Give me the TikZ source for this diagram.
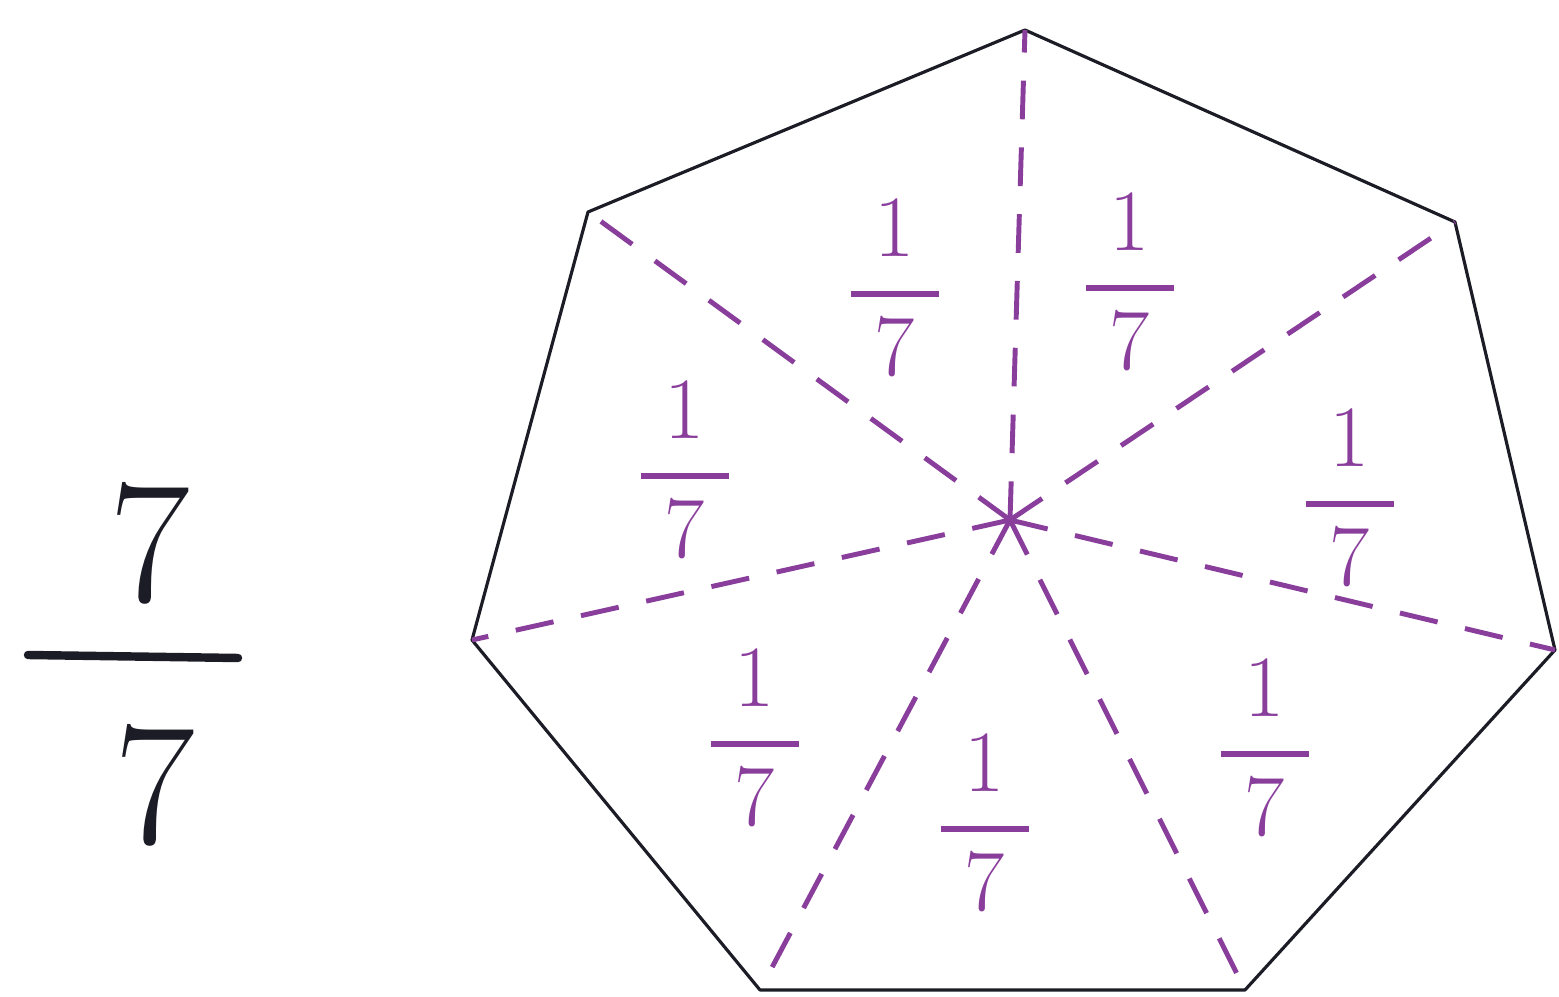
\documentclass[tikz,border=0pt]{standalone}
\usepackage{amsmath}
\usepackage{tikz}
\usetikzlibrary{positioning,calc}
\definecolor{inkpurple}{HTML}{8A3E9C}
\definecolor{inkblack}{HTML}{1C1C26}
\newcommand{\onepart}{$\displaystyle\genfrac{}{}{1.6pt}{0}{\;1\;}{\;7\;}$}
\tikzset{
    every node/.style={font=\small},
    part/.style={text=inkpurple,font=\fontsize{28}{34}\selectfont,inner sep=0pt},
    whole/.style={text=inkblack,font=\fontsize{50}{60}\selectfont,inner sep=0pt},
    side/.style={draw=inkblack,line width=0.9pt,line join=round},
    cut/.style={draw=inkpurple,line width=1.4pt,dash pattern=on 11pt off 8pt},
    bar/.style={draw=inkblack,line width=2.4pt,line cap=round}
}

\begin{document}
\begin{tikzpicture}[x=0.01cm,y=-0.01cm]
    \useasboundingbox (0,0) rectangle (1559,997);
    % the whole
    \node[whole] (num) at (150,543) {7};
    \node[whole] (den) at (155,785) {7};
    \coordinate (barl) at (28,655);
    \coordinate (barr) at (238,658);
    \draw[bar] (barl) -- (barr);
    % heptagon
    \coordinate (v1) at (1025,30);
    \coordinate (v2) at (1455,222);
    \coordinate (v3) at (1555,650);
    \coordinate (v4) at (1245,990);
    \coordinate (v5) at (760,990);
    \coordinate (v6) at (472,640);
    \coordinate (v7) at (588,212);
    \coordinate (c) at (1010,520);
    \draw[side] (v1)--(v2)--(v3)--(v4)--(v5)--(v6)--(v7)--cycle;
    \foreach \v in {v1,v2,v3,v4,v5,v6,v7}
        \draw[cut] (c) -- (\v);
    % the seven parts
    \node[part] (pa) at (895,288) {\onepart};
    \node[part] (pb) at (1130,282) {\onepart};
    \node[part] (pc) at (685,470) {\onepart};
    \node[part] (pd) at (1350,498) {\onepart};
    \node[part] (pe) at (755,738) {\onepart};
    \node[part] (pf) at (985,823) {\onepart};
    \node[part] (pg) at (1265,748) {\onepart};
\end{tikzpicture}
\end{document}
